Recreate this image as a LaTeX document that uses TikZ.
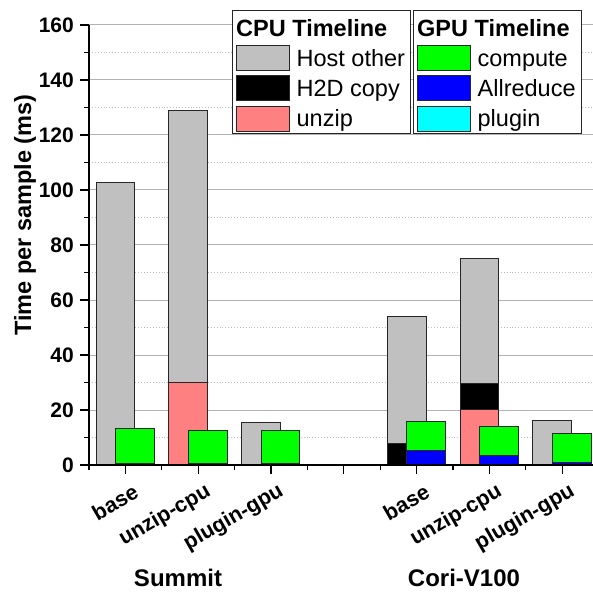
\documentclass[tikz,border=0pt]{standalone}
\usepackage{fontspec}
\setmainfont{Liberation Sans}
\usetikzlibrary{positioning}

\definecolor{hostgray}{RGB}{192,192,192}
\definecolor{unzippink}{RGB}{255,128,128}
\definecolor{computegreen}{RGB}{0,255,0}
\definecolor{reduceblue}{RGB}{0,0,255}
\definecolor{plugincyan}{RGB}{0,255,255}

\begin{document}
\begin{tikzpicture}[
    x=1pt, y=1pt,
    bar/.style={draw=black!85, line width=0.9pt},
    majorgrid/.style={draw=black!30, line width=1pt},
    minorgrid/.style={draw=black!25, line width=0.9pt, dotted},
    axisline/.style={draw=black, line width=1.2pt},
    ticklabel/.style={anchor=east, inner sep=0pt, font=\bfseries\fontsize{21}{25}\selectfont},
    catlabel/.style={anchor=east, rotate=30, inner sep=0pt, font=\bfseries\fontsize{21.5}{25}\selectfont},
    grouplabel/.style={inner sep=0pt, font=\bfseries\fontsize{24}{28}\selectfont},
    legbox/.style={draw=black!85, fill=white, line width=1pt},
    legtitle/.style={anchor=base west, inner sep=0pt, font=\bfseries\fontsize{23.5}{28}\selectfont},
    swatch/.style={draw=black!85, line width=0.9pt, minimum width=53pt, minimum height=25pt, inner sep=0pt},
    legtext/.style={inner sep=0pt, text height=16pt, text depth=0pt, font=\fontsize{23.5}{28}\selectfont}
]
    \clip (0,0) rectangle (593,592);

    % --- Plot area (x in categories, y in ms) ---
    \begin{scope}[shift={(52.6,127)}, x=72.8pt, y=2.75pt]
        % grid
        \foreach \v in {10,30,...,150} \draw[minorgrid] (0.5,\v) -- (7.6,\v);
        \foreach \v in {20,40,...,160} \draw[majorgrid] (0.5,\v) -- (7.6,\v);

        % Summit: base
        \draw[bar, fill=hostgray] (0.598,0) rectangle (1.129,102.7);
        \draw[bar, fill=reduceblue] (0.867,0) rectangle (1.396,0.4);
        \draw[bar, fill=computegreen] (0.867,0.4) rectangle (1.396,13.4);

        % Summit: unzip-cpu
        \draw[bar, fill=unzippink] (1.598,0) rectangle (2.129,30);
        \draw[bar, fill=hostgray] (1.598,30) rectangle (2.129,128.8);
        \draw[bar, fill=reduceblue] (1.867,0) rectangle (2.396,0.4);
        \draw[bar, fill=computegreen] (1.867,0.4) rectangle (2.396,12.6);

        % Summit: plugin-gpu
        \draw[bar, fill=hostgray] (2.598,0) rectangle (3.129,15.6);
        \draw[bar, fill=reduceblue] (2.867,0) rectangle (3.396,0.4);
        \draw[bar, fill=computegreen] (2.867,0.4) rectangle (3.396,12.7);

        % Cori-V100: base
        \draw[bar, fill=black] (4.598,0) rectangle (5.129,8);
        \draw[bar, fill=hostgray] (4.598,8) rectangle (5.129,54);
        \draw[bar, fill=reduceblue] (4.867,0) rectangle (5.396,5.2);
        \draw[bar, fill=computegreen] (4.867,5.2) rectangle (5.396,15.7);

        % Cori-V100: unzip-cpu
        \draw[bar, fill=unzippink] (5.598,0) rectangle (6.129,20.2);
        \draw[bar, fill=black] (5.598,20.2) rectangle (6.129,29.6);
        \draw[bar, fill=hostgray] (5.598,29.6) rectangle (6.129,75.2);
        \draw[bar, fill=reduceblue] (5.867,0) rectangle (6.396,3.3);
        \draw[bar, fill=computegreen] (5.867,3.3) rectangle (6.396,13.9);

        % Cori-V100: plugin-gpu
        \draw[bar, fill=black] (6.598,0) rectangle (7.129,0.3);
        \draw[bar, fill=hostgray] (6.598,0.3) rectangle (7.129,16.2);
        \draw[bar, fill=reduceblue] (6.867,0) rectangle (7.396,1.0);
        \draw[bar, fill=computegreen] (6.867,1.0) rectangle (7.396,11.5);

        % axes and ticks
        \draw[axisline] (0.5,160) -- (0.5,0) -- (7.6,0);
        \foreach \v in {0,20,...,160} \draw[axisline] (0.5,\v) -- ++(-9pt,0);
        \foreach \v in {10,30,...,150} \draw[axisline] (0.5,\v) -- ++(-5pt,0);
        \foreach \i in {1,...,7} \draw[axisline] (\i,0) -- ++(0,-9pt);
        \foreach \i in {0.5,1.5,...,7.5} \draw[axisline] (\i,0) -- ++(0,-5pt);

        % tick labels
        \foreach \v in {0,20,...,160}
            \node[ticklabel] (ytick\v) at ([xshift=-15pt]0.5,\v) {\v};

        \node[catlabel] (sbase)   at ([xshift=11pt,yshift=-25pt]1,0) {base};
        \node[catlabel] (sunzip)  at ([xshift=11pt,yshift=-25pt]2,0) {unzip-cpu};
        \node[catlabel] (splugin) at ([xshift=11pt,yshift=-25pt]3,0) {plugin-gpu};
        \node[catlabel] (cbase)   at ([xshift=11pt,yshift=-25pt]5,0) {base};
        \node[catlabel] (cunzip)  at ([xshift=11pt,yshift=-25pt]6,0) {unzip-cpu};
        \node[catlabel] (cplugin) at ([xshift=11pt,yshift=-25pt]7,0) {plugin-gpu};
    \end{scope}

    % --- Axis titles ---
    \node[grouplabel] (summit) at (178,14) {Summit};
    \node[grouplabel] (cori)   at (464,14) {Cori-V100};
    \node[grouplabel, rotate=90, font=\bfseries\fontsize{23.5}{28}\selectfont] (ytitle) at (25,377) {Time per sample (ms)};

    % --- Legend: CPU ---
    \draw[legbox] (232.7,458.7) rectangle (410.7,581);
    \node[legtitle] (cputitle) at (236,555.5) {CPU Timeline};
    \node[swatch, fill=hostgray] (swhost) at (262.5,533.8) {};
    \node[swatch, fill=black, below=4.3pt of swhost] (swcopy) {};
    \node[swatch, fill=unzippink, below=4.3pt of swcopy] (swunzip) {};
    \node[legtext, right=7pt of swhost]  (txhost)  {Host other};
    \node[legtext, right=7pt of swcopy]  (txcopy)  {H2D copy};
    \node[legtext, right=7pt of swunzip] (txunzip) {unzip};

    % --- Legend: GPU ---
    \draw[legbox] (413.3,458.7) rectangle (581,581);
    \node[legtitle] (gputitle) at (417,555.5) {GPU Timeline};
    \node[swatch, fill=computegreen] (swcompute) at (443.5,533.8) {};
    \node[swatch, fill=reduceblue, below=4.3pt of swcompute] (swreduce) {};
    \node[swatch, fill=plugincyan, below=4.3pt of swreduce] (swplugin) {};
    \node[legtext, right=7pt of swcompute] (txcompute) {compute};
    \node[legtext, right=7pt of swreduce]  (txreduce)  {Allreduce};
    \node[legtext, right=7pt of swplugin]  (txplugin)  {plugin};

\end{tikzpicture}
\end{document}
